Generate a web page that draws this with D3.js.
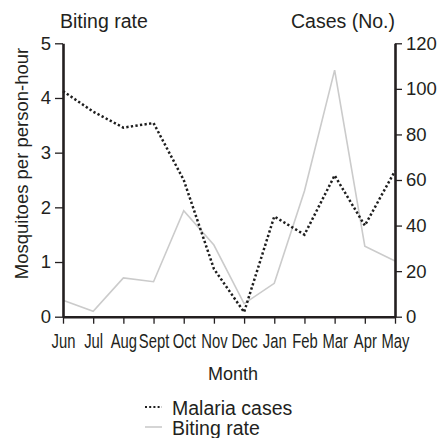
<!DOCTYPE html>
<html>
<head>
<meta charset="utf-8">
<script src="https://cdn.jsdelivr.net/npm/d3@7/dist/d3.min.js"></script>
<style>
  html, body { margin: 0; padding: 0; background: #fff; }
  svg { display: block; font-family: "Liberation Sans", Arial, Helvetica, sans-serif; }
  .axis text { fill: #231f20; font-size: 18.5px; }
  .axis.x text { font-size: 19.5px; }
</style>
</head>
<body>
<svg id="chart" width="443" height="438"></svg>
<script>
// Monthly biting rate (mosquitoes per person-hour) and malaria case counts
const months = ["Jun", "Jul", "Aug", "Sept", "Oct", "Nov", "Dec", "Jan", "Feb", "Mar", "Apr", "May"];
const bitingRate = [0.3, 0.1, 0.71, 0.64, 1.94, 1.31, 0.24, 0.61, 2.3, 4.51, 1.29, 1.02];
const malariaCases = [99, 90, 83, 85, 60, 21, 2, 44, 36, 62, 40, 64];
const leftTicks = [0, 1, 2, 3, 4, 5];
const rightTicks = [0, 20, 40, 60, 80, 100, 120];

const svg = d3.select("#chart");
const ink = "#231f20";

const plot = { left: 63, right: 395, top: 43.3, bottom: 316.7 };

const x = d3.scalePoint().domain(months).range([plot.left, plot.right]);
const yLeft = d3.scaleLinear().domain([0, 5]).range([plot.bottom, plot.top]);
const yRight = d3.scaleLinear().domain([0, 120]).range([plot.bottom, plot.top]);

function styleAxis(g) {
  g.select(".domain").attr("stroke", ink).attr("stroke-width", 2.6);
  g.selectAll(".tick line").attr("stroke", ink).attr("stroke-width", 1.3);
}

// Lines
const bitingLine = d3.line()
  .x((d, i) => x(months[i]))
  .y(d => yLeft(d));
const casesLine = d3.line()
  .x((d, i) => x(months[i]))
  .y(d => yRight(d));

svg.append("path")
  .datum(bitingRate)
  .attr("d", bitingLine)
  .attr("fill", "none")
  .attr("stroke", "#cbcbcb")
  .attr("stroke-width", 1.6);

svg.append("path")
  .datum(malariaCases)
  .attr("d", casesLine)
  .attr("fill", "none")
  .attr("stroke", "#1e1e1e")
  .attr("stroke-width", 2.5)
  .attr("stroke-dasharray", "2.3,2.3");

// Axes
svg.append("g")
  .attr("class", "axis y-left")
  .attr("transform", `translate(${plot.left},0)`)
  .call(d3.axisLeft(yLeft).tickValues(leftTicks).tickFormat(d3.format("d"))
    .tickSize(8).tickSizeOuter(0).tickPadding(4))
  .call(styleAxis);

svg.append("g")
  .attr("class", "axis y-right")
  .attr("transform", `translate(${plot.right},0)`)
  .call(d3.axisRight(yRight).tickValues(rightTicks).tickFormat(d3.format("d"))
    .tickSize(7).tickSizeOuter(0).tickPadding(4))
  .call(styleAxis);

svg.append("g")
  .attr("class", "axis x")
  .attr("transform", `translate(0,${plot.bottom})`)
  .call(d3.axisBottom(x).tickSize(7).tickSizeOuter(0).tickPadding(10))
  .call(styleAxis)
  .call(g => g.selectAll(".tick text").attr("transform", "scale(0.76,1)"));

// Titles
svg.append("text")
  .attr("x", 60).attr("y", 28)
  .attr("fill", ink).attr("font-size", 19.5)
  .text("Biting rate");

svg.append("text")
  .attr("x", 395).attr("y", 28)
  .attr("text-anchor", "end")
  .attr("fill", ink).attr("font-size", 19.5)
  .text("Cases (No.)");

svg.append("text")
  .attr("transform", "translate(28,163.5) rotate(-90)")
  .attr("text-anchor", "middle")
  .attr("fill", ink).attr("font-size", 18.5)
  .text("Mosquitoes per person-hour");

svg.append("text")
  .attr("x", 233).attr("y", 380)
  .attr("text-anchor", "middle")
  .attr("fill", ink).attr("font-size", 18)
  .text("Month");

// Legend
const legend = svg.append("g").attr("transform", "translate(145,0)");
legend.append("line")
  .attr("x1", 0).attr("x2", 17).attr("y1", 407).attr("y2", 407)
  .attr("stroke", "#1e1e1e").attr("stroke-width", 2.2).attr("stroke-dasharray", "2,2.2");
legend.append("text")
  .attr("x", 27).attr("y", 415)
  .attr("fill", ink).attr("font-size", 19.5)
  .text("Malaria cases");
legend.append("line")
  .attr("x1", 0).attr("x2", 17).attr("y1", 427).attr("y2", 427)
  .attr("stroke", "#cbcbcb").attr("stroke-width", 1.6);
legend.append("text")
  .attr("x", 27).attr("y", 435)
  .attr("fill", ink).attr("font-size", 19.5)
  .text("Biting rate");
</script>
</body>
</html>
